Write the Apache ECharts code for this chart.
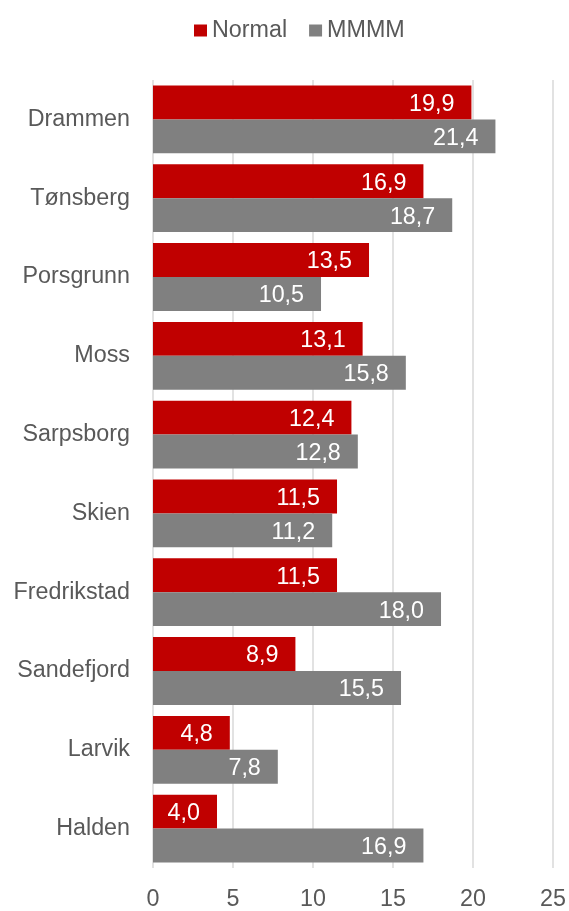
<!DOCTYPE html>
<html>
<head>
<meta charset="utf-8">
<style>
  html, body { margin: 0; padding: 0; background: #fff; }
  #chart { width: 569px; height: 911px; }
</style>
<script src="https://cdn.jsdelivr.net/npm/echarts@6/dist/echarts.min.js"></script>
</head>
<body>
<div id="chart"></div>
<script>
// Cities, listed top to bottom
const cities = ['Drammen', 'Tønsberg', 'Porsgrunn', 'Moss', 'Sarpsborg', 'Skien', 'Fredrikstad', 'Sandefjord', 'Larvik', 'Halden'];
const normalValues = [19.9, 16.9, 13.5, 13.1, 12.4, 11.5, 11.5, 8.9, 4.8, 4.0];
const mmmmValues = [21.4, 18.7, 10.5, 15.8, 12.8, 11.2, 18.0, 15.5, 7.8, 16.9];
const seriesNames = ['Normal', 'MMMM'];

const FONT = '"Liberation Sans", Arial, sans-serif';
const FONT_SIZE = 23.3;
const TEXT_COLOR = '#595959';
// Norwegian decimal comma
const fmt = p => p.value.toFixed(1).replace('.', ',');

const chart = echarts.init(document.getElementById('chart'), null, { renderer: 'canvas' });

const barLabel = {
  show: true,
  position: 'insideRight',
  distance: 17,
  offset: [0, 2],
  color: '#ffffff',
  fontFamily: FONT,
  fontSize: FONT_SIZE,
  formatter: fmt
};

chart.setOption({
  animation: false,
  backgroundColor: '#ffffff',
  legend: {
    top: 14,
    left: 189,
    itemWidth: 13,
    itemHeight: 12,
    itemGap: 22,
    icon: 'rect',
    textStyle: { fontFamily: FONT, fontSize: FONT_SIZE, color: TEXT_COLOR },
    data: seriesNames
  },
  grid: { left: 153, right: 13, top: 80, bottom: 39, containLabel: false },
  xAxis: {
    type: 'value',
    min: 0,
    max: 25,
    interval: 5,
    axisLine: { show: false },
    axisTick: { show: false },
    axisLabel: { fontFamily: FONT, fontSize: FONT_SIZE, color: TEXT_COLOR, margin: 20 },
    splitLine: { show: true, lineStyle: { color: '#d9d9d9', width: 1.5 } }
  },
  yAxis: {
    type: 'category',
    data: cities,
    inverse: true,
    axisLine: { show: false },
    axisTick: { show: false },
    axisLabel: { fontFamily: FONT, fontSize: FONT_SIZE, color: TEXT_COLOR, margin: 23 }
  },
  series: [
    {
      name: seriesNames[0],
      type: 'bar',
      data: normalValues,
      itemStyle: { color: '#c00000' },
      barGap: '0%',
      barCategoryGap: '14%',
      label: barLabel
    },
    {
      name: seriesNames[1],
      type: 'bar',
      data: mmmmValues,
      itemStyle: { color: '#808080' },
      barGap: '0%',
      barCategoryGap: '14%',
      label: barLabel
    }
  ]
});
</script>
</body>
</html>
